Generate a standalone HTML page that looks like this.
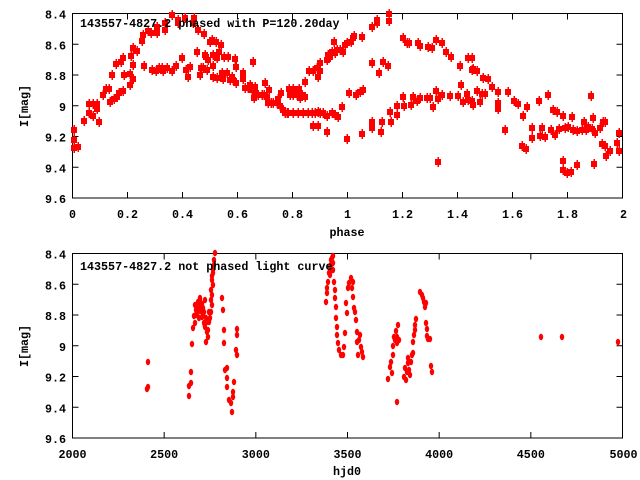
<!DOCTYPE html>
<html><head><meta charset="utf-8"><style>
html,body{margin:0;padding:0;background:#fff;}
svg{display:block;}
text{font-family:"Liberation Mono","DejaVu Sans Mono",monospace;font-weight:bold;font-size:11.7px;fill:#000;}
</style></head><body>
<svg id="s" width="640" height="480" xmlns="http://www.w3.org/2000/svg">
<rect width="640" height="480" fill="#fff"/>
<g id="ax"></g>
<g id="pts"></g>
<text x="80" y="27">143557-4827.2 phased with P=120.20day</text>
<text x="80" y="270">143557-4827.2 not phased light curve</text>
<text x="347" y="236" text-anchor="middle">phase</text>
<text x="347" y="475" text-anchor="middle">hjd0</text>
<text transform="translate(28,106) rotate(-90)" text-anchor="middle">I[mag]</text>
<text transform="translate(28,346) rotate(-90)" text-anchor="middle">I[mag]</text>
</svg>
<script>
var NS="http://www.w3.org/2000/svg";
function el(p,t,a,txt){var e=document.createElementNS(NS,t);for(var k in a)e.setAttribute(k,a[k]);if(txt!==undefined)e.textContent=txt;p.appendChild(e);return e;}
var ax=document.getElementById('ax'),pg=document.getElementById('pts');
var L=72.5,R=622.5;
function panel(T,B,xl,ylab){
 el(ax,'rect',{x:L,y:T,width:R-L,height:B-T,fill:'none',stroke:'#000','stroke-width':1});
 var n=xl.length-1;
 for(var i=0;i<=n;i++){var x=L+(R-L)*i/n;
  el(ax,'line',{x1:x,y1:B,x2:x,y2:B-6,stroke:'#000'});el(ax,'line',{x1:x,y1:T,x2:x,y2:T+6,stroke:'#000'});
  el(ax,'text',{x:x+(i==n?1:0),y:B+20,'text-anchor':'middle'},xl[i]);}
 for(var j=0;j<ylab.length;j++){var y=T+(B-T)*j/6;
  el(ax,'line',{x1:L,y1:y,x2:L+6,y2:y,stroke:'#000'});el(ax,'line',{x1:R,y1:y,x2:R-6,y2:y,stroke:'#000'});
  el(ax,'text',{x:66,y:y+5,'text-anchor':'end'},ylab[j]);}
}
var yl=['8.4','8.6','8.8','9','9.2','9.4','9.6'];
panel(13.5,198,['0','0.2','0.4','0.6','0.8','1','1.2','1.4','1.6','1.8','2'],yl);
panel(253.5,438,['2000','2500','3000','3500','4000','4500','5000'],yl);
var ptsTop=[[74,130],[74,140],[74,148],[78,147],[84,121],[89,104],[93,104],[97,104],[89,113],[93,116],[97,109],[99,122],[103,95],[106,89],[109,89],[110,102],[114,99],[117,97],[119,93],[123,91],[112,75],[116,64],[121,62],[123,58],[124,75],[130,85],[130,74],[131,56],[133,48],[133,65],[133,79],[137,51],[142,41],[143,35],[144,66],[148,31],[151,33],[152,70],[156,71],[157,33],[157,27],[159,68],[162,68],[163,71],[165,23],[165,30],[167,68],[172,71],[172,15],[176,66],[178,23],[178,20],[182,58],[185,18],[186,70],[188,77],[190,67],[193,23],[194,18],[197,52],[198,30],[200,75],[201,68],[203,68],[204,34],[205,55],[206,57],[207,70],[208,60],[210,42],[212,40],[213,55],[213,66],[213,77],[216,42],[217,78],[217,58],[219,52],[221,45],[222,73],[223,79],[224,57],[227,73],[228,57],[230,80],[232,77],[233,80],[235,59],[236,67],[236,83],[243,73],[243,79],[245,88],[248,88],[250,85],[252,90],[253,62],[254,98],[255,87],[256,93],[258,95],[262,95],[264,95],[265,83],[267,97],[269,90],[268,103],[271,103],[273,103],[277,103],[278,99],[280,106],[281,93],[283,110],[287,113],[289,89],[290,95],[293,89],[293,95],[297,95],[299,89],[300,98],[302,95],[305,97],[285,113],[288,113],[293,113],[298,113],[303,113],[308,113],[312,113],[315,113],[318,112],[305,82],[309,71],[313,71],[317,68],[318,77],[313,126],[318,126],
[320,63],[320,71],[327,60],[328,55],[330,57],[332,52],[334,42],[335,53],[337,50],[340,50],[343,52],[345,45],[347,43],[351,42],[353,38],[354,36],[362,37],[372,27],[377,23],[377,20],[389,14],[389,21],[372,63],[379,73],[383,62],[388,66],[349,93],[356,95],[360,92],[363,90],[342,107],[320,113],[323,113],[327,116],[332,113],[335,115],[338,117],[327,132],[347,139],[362,134],[372,122],[372,128],[382,122],[381,132],[390,112],[391,122],[397,115],[397,106],[404,106],[403,97],[411,105],[413,97],[417,101],[420,98],[427,98],[430,98],[433,107],[436,91],[438,99],[442,95],[450,96],[458,96],[461,85],[463,102],[467,94],[468,100],[472,101],[473,105],[477,91],[480,102],[482,94],[485,94],[438,162],[403,38],[407,43],[409,43],[418,43],[420,46],[428,47],[432,48],[436,40],[442,43],[446,52],[451,57],[460,66],[468,58],[472,58],[472,70],[473,69],[477,71],[483,78],[488,79],[492,87],[498,92],[498,103],[498,109],[505,130],[508,92],[514,101],[518,104],[522,146],[523,116],[526,149],[527,107],[532,128],[532,138],[539,101],[540,136],[542,128],[545,137],[548,95],[551,130],[553,110],[555,135],[557,112],[559,129],[563,116],[563,161],[563,170],[565,128],[567,173],[568,127],[571,172],[572,117],[573,130],[577,165],[577,131],[582,130],[584,122],[586,130],[588,127],[591,96],[592,129],[593,118],[594,164],[595,133],[600,128],[602,144],[603,122],[605,122],[605,146],[606,156],[610,151],[617,143],[619,133],[619,151]];
ptsTop.forEach(function(p){el(pg,'rect',{x:p[0]-3,y:p[1]-3,width:6,height:6,fill:'#f00'});el(pg,'rect',{x:p[0]-0.5,y:p[1]-5,width:1.5,height:10,fill:'#f00'});});
var ptsBot=[[147,389],[148,387],[148,362],[189,396],[189,386],[191,372],[191,383],[192,344],[193,328],[194,316],[195,323],[197,305],[198,312],[199,307],[200,300],[202,317],[203,308],[204,323],[205,327],[206,342],[207,332],[208,337],[208,330],[209,322],[211,312],[211,290],[212,280],[213,273],[213,270],[214,260],[215,253],[209,312],[222,298],[223,310],[224,330],[224,343],[225,370],[227,368],[227,378],[227,387],[229,400],[231,403],[232,412],[233,397],[233,392],[234,382],[237,329],[237,335],[236,350],[237,355],
[195,305],[196,310],[198,302],[200,306],[201,311],[202,304],[204,312],[196,315],[199,318],[203,316],[206,318],[207,322],[210,318],[212,295],[211,300],[212,305],[213,285],[214,265],[212,276],[200,298],[205,300],
[326,302],[327,293],[327,288],[328,282],[329,273],[330,267],[331,260],[332,258],[333,263],[333,270],[334,282],[335,290],[335,298],[336,307],[336,318],[337,327],[337,335],[338,343],[339,350],[341,355],[343,355],[344,347],[345,333],[346,303],[347,313],[348,288],[349,283],[351,278],[352,288],[353,282],[353,297],[354,308],[355,312],[356,320],[357,332],[357,342],[358,355],[359,340],[360,335],[361,347],[362,352],[363,357],[331,265],[332,270],[333,256],[330,275],
[388,379],[390,367],[391,362],[392,373],[393,355],[393,346],[394,337],[395,340],[396,331],[397,337],[397,343],[398,325],[399,340],[397,402],[404,377],[405,368],[407,372],[408,363],[408,358],[409,370],[411,362],[412,355],[413,353],[413,342],[414,335],[415,330],[415,325],[416,319],[420,292],[422,295],[423,298],[424,302],[425,307],[426,303],[426,323],[427,329],[427,336],[428,339],[430,339],[431,366],[432,372],[406,380],[410,375],
[541,337],[562,337],[618,342]];
ptsBot.forEach(function(p){el(pg,'ellipse',{cx:p[0],cy:p[1],rx:2.2,ry:3.2,fill:'#f00'});});
</script>
</body></html>
